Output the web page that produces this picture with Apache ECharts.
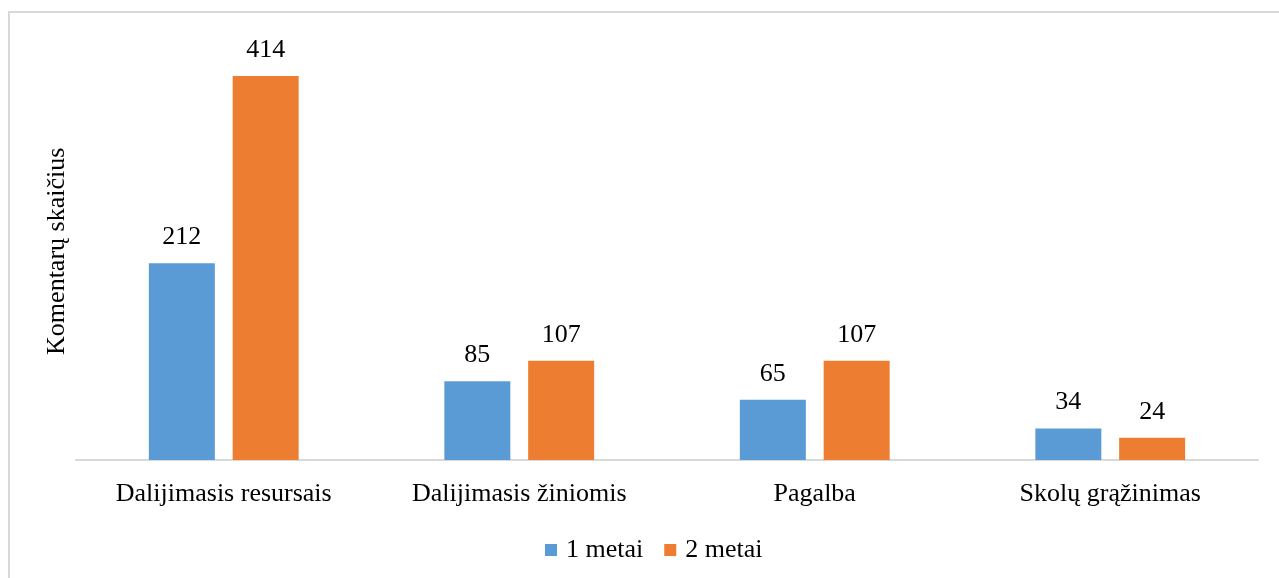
<!DOCTYPE html>
<html>
<head>
<meta charset="utf-8">
<script src="https://cdn.jsdelivr.net/npm/echarts@6/dist/echarts.min.js"></script>
<style>
  html, body { margin: 0; padding: 0; background: #fff; }
  #chart { width: 1279px; height: 578px; }
</style>
</head>
<body>
<div id="chart"></div>
<script>
// Comment categories and counts per year
const categories = ['Dalijimasis resursais', 'Dalijimasis žiniomis', 'Pagalba', 'Skolų grąžinimas'];
const seriesNames = ['1 metai', '2 metai'];
const year1 = [212, 85, 65, 34];
const year2 = [414, 107, 107, 24];
const colors = ['#5B9BD5', '#ED7D31'];

const font = '"Liberation Serif", "Times New Roman", serif';
const fs = 26;
const chart = echarts.init(document.getElementById('chart'));

const labelStyle = {
  show: true,
  position: 'top',
  distance: 13,
  fontFamily: font,
  fontSize: fs,
  color: '#000'
};

chart.setOption({
  animation: false,
  textStyle: { fontFamily: font },
  graphic: [{
    type: 'rect',
    shape: { x: 9, y: 12, width: 1400, height: 700 },
    style: { fill: 'none', stroke: '#d9d9d9', lineWidth: 2 },
    silent: true
  }],
  grid: { left: 76, right: 21, top: 42.6, bottom: 118 },
  legend: {
    data: seriesNames,
    bottom: 15,
    left: 545,
    padding: 0,
    itemWidth: 12,
    itemHeight: 12,
    itemGap: 21,
    icon: 'rect',
    textStyle: { fontFamily: font, fontSize: fs, color: '#000', padding: [0, 0, 0, 4] }
  },
  xAxis: {
    type: 'category',
    data: categories,
    axisLine: { lineStyle: { color: '#d9d9d9', width: 2 } },
    axisTick: { show: false },
    axisLabel: { fontFamily: font, fontSize: fs, color: '#000', margin: 21 }
  },
  yAxis: {
    type: 'value',
    min: 0,
    max: 450,
    name: 'Komentarų skaičius',
    nameLocation: 'middle',
    nameGap: 6,
    nameRotate: 90,
    nameTextStyle: { fontFamily: font, fontSize: fs, color: '#000' },
    axisLine: { show: false },
    axisTick: { show: false },
    axisLabel: { show: false },
    splitLine: { show: false }
  },
  series: [
    {
      name: seriesNames[0],
      type: 'bar',
      data: year1,
      barWidth: 66,
      barGap: '27%',
      itemStyle: { color: colors[0] },
      label: labelStyle
    },
    {
      name: seriesNames[1],
      type: 'bar',
      data: year2,
      barWidth: 66,
      barGap: '27%',
      itemStyle: { color: colors[1] },
      label: labelStyle
    }
  ]
});
</script>
</body>
</html>
